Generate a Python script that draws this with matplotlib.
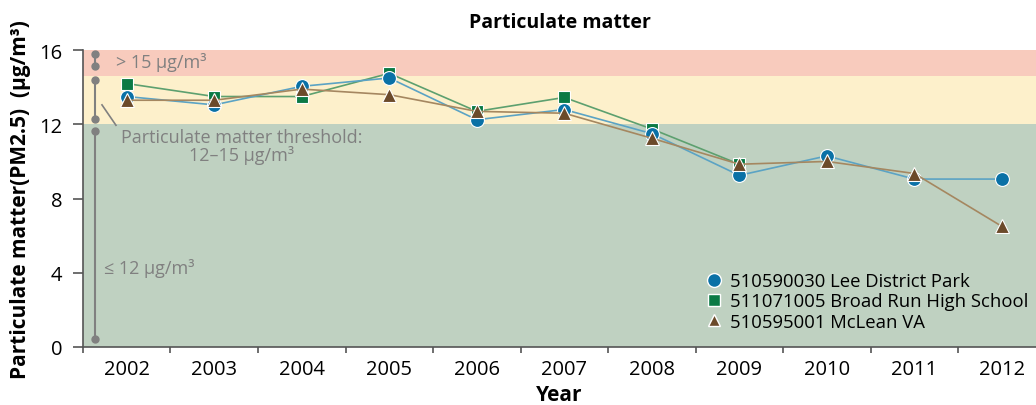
import matplotlib.pyplot as plt
from matplotlib.lines import Line2D

plt.rcParams['font.family'] = ['Open Sans', 'DejaVu Sans']

years = [2002, 2003, 2004, 2005, 2006, 2007, 2008, 2009, 2010, 2011, 2012]
lee = [13.5, 13.05, 14.05, 14.5, 12.25, 12.8, 11.5, 9.25, 10.3, 9.05, 9.05]
broad_years = [2002, 2003, 2004, 2005, 2006, 2007, 2008, 2009]
broad = [14.2, 13.5, 13.5, 14.75, 12.7, 13.45, 11.75, 9.85]
mclean = [13.3, 13.3, 13.9, 13.6, 12.7, 12.6, 11.25, 9.85, 10.0, 9.35, 6.5]

series_names = ['510590030 Lee District Park', '511071005 Broad Run High School', '510595001 McLean VA']

# threshold bands
band_low = 12
band_high = 14.6
y_max = 16

fig = plt.figure(figsize=(10.36, 4.06), dpi=100)
ax = fig.add_axes([0.0801, 0.143, 0.9199, 0.731])

ax.axhspan(0, band_low, color='#bfd1c1', lw=0, zorder=0)
ax.axhspan(band_low, band_high, color='#fdf0cb', lw=0, zorder=0)
ax.axhspan(band_high, y_max, color='#f8cbbd', lw=0, zorder=0)

ax.plot(years, lee, color='#5ba3c4', lw=1.2, zorder=3, marker='o', ms=10,
        mfc='#0a71a6', mec='white', mew=0.8)
ax.plot(broad_years, broad, color='#5da06f', lw=1.2, zorder=2, marker='s', ms=9,
        mfc='#0b7a45', mec='white', mew=0.8)
ax.plot(years, mclean, color='#a58760', lw=1.2, zorder=4, marker='^', ms=10,
        mfc='#6b4a2a', mec='white', mew=0.8)

# left-hand bracket annotation
gray = '#808080'
bx = 2001.637
ax.plot([bx, bx], [15.79, 15.14], color=gray, lw=1.5, marker='o', ms=5, zorder=5)
ax.plot([bx, bx], [14.39, 12.28], color=gray, lw=1.5, marker='o', ms=5, zorder=5)
ax.plot([bx, bx], [11.64, 0.43], color=gray, lw=1.5, marker='o', ms=5, zorder=5)
ax.plot([2001.717, 2001.877], [13.05, 11.95], color=gray, lw=1.2, zorder=5)

ax.text(2001.88, 15.4, '> 15 µg/m³', color=gray, fontsize=13, va='center')
ax.text(2003.317, 10.83, 'Particulate matter threshold:\n12–15 µg/m³', color=gray,
        fontsize=13, va='center', ha='center', linespacing=0.95)
ax.text(2001.74, 4.26, '≤ 12 µg/m³', color=gray, fontsize=13, va='center')

ax.set_xlim(2001.5, 2012.39)
ax.set_ylim(0, y_max)
ax.set_yticks([0, 4, 8, 12, 16])
ax.set_xticks([y - 0.5 for y in years])
ax.set_xticks(years, minor=True)
ax.set_xticklabels([])
ax.set_xticklabels([str(y) for y in years], minor=True)
ax.tick_params(axis='x', which='minor', length=0, pad=9, labelsize=14.5)
ax.tick_params(axis='x', which='major', length=4, width=1.2, color='#555555')
ax.tick_params(axis='y', length=7, width=1.2, color='#555555', labelsize=14.5, pad=8)

for s in ['top', 'right']:
    ax.spines[s].set_visible(False)
for s in ['left', 'bottom']:
    ax.spines[s].set_color('#555555')
    ax.spines[s].set_linewidth(1.2)

ax.set_title('Particulate matter', fontsize=14, fontweight='bold', pad=17)
ax.set_xlabel('Year', fontsize=15, fontweight='bold', labelpad=3)
ax.set_ylabel('Particulate matter(PM2.5)  (µg/m³)', fontsize=15, fontweight='bold', labelpad=6)

handles = [
    Line2D([], [], ls='none', marker='o', ms=10, mfc='#0a71a6', mec='white'),
    Line2D([], [], ls='none', marker='s', ms=8, mfc='#0b7a45', mec='white'),
    Line2D([], [], ls='none', marker='^', ms=9, mfc='#6b4a2a', mec='white'),
]
ax.legend(handles, series_names, loc='lower right', frameon=False, fontsize=13.3,
          handletextpad=0.3, labelspacing=0.12, borderaxespad=0.0,
          bbox_to_anchor=(1.0, 0.03), handlelength=1.2)

fig.savefig('out.png', dpi=100)
